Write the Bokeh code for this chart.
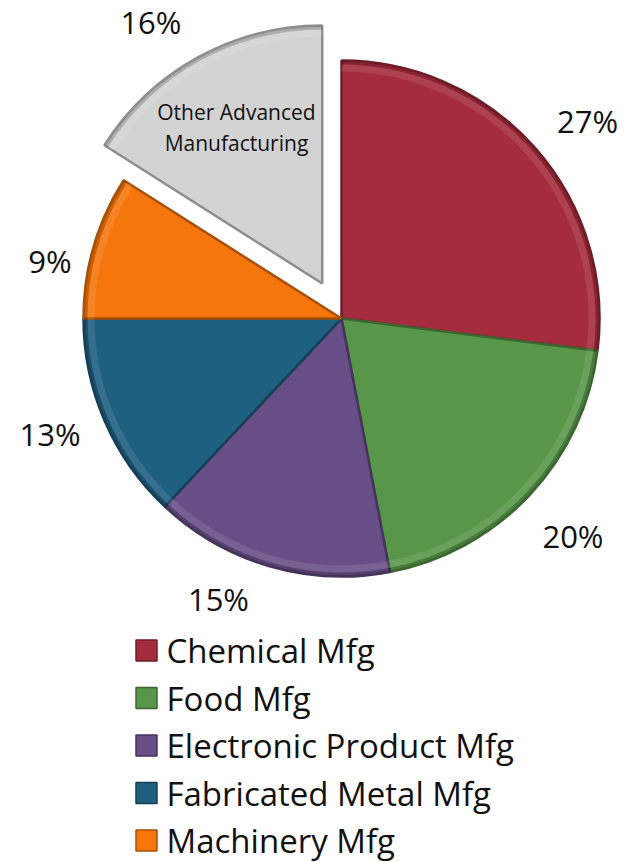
import numpy as np
from bokeh.plotting import figure
from bokeh.models import ColumnDataSource, Range1d
from bokeh.core.properties import value
from bokeh.embed import file_html
from bokeh.resources import INLINE

# ---------------- data ----------------
categories = ["Chemical Mfg", "Food Mfg", "Electronic Product Mfg",
              "Fabricated Metal Mfg", "Machinery Mfg", "Other Advanced Manufacturing"]
shares = [27, 20, 15, 13, 9, 16]
pct_labels = ["27%", "20%", "15%", "13%", "9%", "16%"]
legend_items = ["Chemical Mfg", "Food Mfg", "Electronic Product Mfg",
                "Fabricated Metal Mfg", "Machinery Mfg"]
inner_label = "Other Advanced\nManufacturing"

# ---------------- style / layout ----------------
colors = ["#A52C3C", "#58964A", "#684E86", "#1F5F80", "#F5760C", "#D3D3D3"]
edges = ["#6E1C27", "#3A6630", "#45345A", "#143F55", "#A85008", "#8E8E8E"]
W, H = 632, 862
CX, CY, R = 341, 544, 258
EXPLODE_IDX, EXPLODE_D = 5, 40
LABEL_R = 312
# best-fit style nudges of the percent labels (pixels, x right / y up)
label_nudge = [(12, -9), (4, -4), (-36, 19), (-5, 8), (8, -30), (-21, -12)]
FONT = "Open Sans"

total = float(sum(shares))
cum = np.cumsum([0] + shares) / total
clock_start = 2 * np.pi * cum[:-1]
clock_end = 2 * np.pi * cum[1:]
mid = (clock_start + clock_end) / 2
# clockwise-from-top -> math angles
start = np.pi / 2 - clock_end
end = np.pi / 2 - clock_start
mid_math = np.pi / 2 - mid

xs, ys = [], []
for i in range(len(shares)):
    d = EXPLODE_D if i == EXPLODE_IDX else 0
    xs.append(CX + d * np.cos(mid_math[i]))
    ys.append(CY + d * np.sin(mid_math[i]))
xs, ys = np.array(xs), np.array(ys)

src = ColumnDataSource(dict(x=xs, y=ys, start=start, end=end, color=colors,
                            edge=edges, cat=categories))

p = figure(width=W, height=H, output_backend="svg", toolbar_location=None,
           x_range=Range1d(0, W), y_range=Range1d(0, H), min_border=0)
p.axis.visible = False
p.grid.visible = False
p.outline_line_color = None
p.background_fill_color = "white"
p.border_fill_color = "white"

p.wedge(x="x", y="y", radius=R, start_angle="start", end_angle="end",
        fill_color="color", line_color="edge", line_width=2.5, source=src)
# bevel-like rim highlight and inner shadow
p.annular_wedge(x="x", y="y", inner_radius=R - 11, outer_radius=R - 4,
                start_angle="start", end_angle="end", fill_color="white",
                fill_alpha=0.10, line_color=None, source=src)
p.annular_wedge(x="x", y="y", inner_radius=R - 4, outer_radius=R - 1,
                start_angle="start", end_angle="end", fill_color="black",
                fill_alpha=0.18, line_color=None, source=src)

# percent labels
nx = np.array([n[0] for n in label_nudge])
ny = np.array([n[1] for n in label_nudge])
lx = xs + LABEL_R * np.cos(mid_math) + nx
ly = ys + LABEL_R * np.sin(mid_math) + ny
p.text(x=lx, y=ly, text=pct_labels, text_font=value(FONT), text_font_size="31px",
       text_align="center", text_baseline="middle", text_color="#111111")

# inner label for exploded slice
i = EXPLODE_IDX
p.text(x=[xs[i] + 0.69 * R * np.cos(mid_math[i])],
       y=[ys[i] + 0.69 * R * np.sin(mid_math[i])],
       text=[inner_label], text_font=value(FONT), text_font_size="21px",
       text_align="center", text_baseline="middle", text_line_height=1.1,
       text_color="#111111")

# legend
row0, step = 212, 47.5
ly_leg = [row0 - step * k for k in range(len(legend_items))]
p.rect(x=[146] * len(legend_items), y=ly_leg, width=21, height=21,
       fill_color=colors[:len(legend_items)], line_color=edges[:len(legend_items)],
       line_width=1.5)
p.text(x=[166] * len(legend_items), y=ly_leg, text=legend_items,
       text_font=value(FONT), text_font_size="33px", text_align="left",
       text_baseline="middle", text_color="#111111")

open("out.html", "w").write(file_html(p, INLINE))
